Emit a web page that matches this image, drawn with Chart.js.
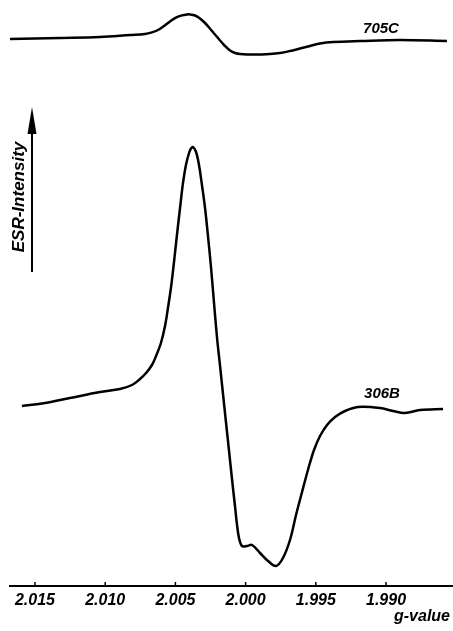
<!DOCTYPE html>
<html>
<head>
<meta charset="utf-8">
<script src="https://cdn.jsdelivr.net/npm/chart.js@4/dist/chart.umd.min.js"></script>
<style>
  html, body { margin: 0; padding: 0; background: #fff; }
  canvas { display: block; }
</style>
</head>
<body>
<canvas id="esr" width="453" height="631"></canvas>
<script>
// g-value ticks along the field axis
const gTicks = [2.015, 2.010, 2.005, 2.000, 1.995, 1.990];

// spectrum 705C (g-value, intensity a.u.)
const g705 = [2.01678, 2.01322, 2.01037, 2.00823, 2.00717, 2.00667, 2.00624, 2.00581, 2.00538,
  2.00496, 2.00453, 2.00417, 2.00396, 2.00360, 2.00325, 2.00289, 2.00254, 2.00218, 2.00182,
  2.00147, 2.00111, 2.00075, 2.00040, 1.99933, 1.99826, 1.99755, 1.99684, 1.99613, 1.99541,
  1.99470, 1.99377, 1.99185, 1.98900, 1.98566];
const int705 = [183.5, 184, 184.5, 185.5, 186, 186.8, 188, 190, 192.3,
  194.2, 195.3, 195.75, 195.8, 195.25, 193.75, 191.5, 188.75, 185.75, 182.75,
  180, 177.75, 176.5, 176, 175.75, 176, 176.5, 177.5, 178.75, 180,
  181.25, 182, 182.5, 183, 182.5];

// spectrum 306B
const g306 = [2.01593, 2.01429, 2.01251, 2.01037, 2.00895, 2.00809, 2.00752, 2.00709, 2.00667,
  2.00638, 2.00603, 2.00574, 2.00553, 2.00531, 2.00510, 2.00489, 2.00467, 2.00446, 2.00425,
  2.00403, 2.00389, 2.00375, 2.00353, 2.00332, 2.00311, 2.00289, 2.00268, 2.00246, 2.00225,
  2.00204, 2.00182, 2.00161, 2.00140, 2.00118, 2.00097, 2.00075, 2.00061, 2.00047, 2.00026,
  1.99990, 1.99954, 1.99897, 1.99840, 1.99783, 1.99734, 1.99684, 1.99641, 1.99598, 1.99556,
  1.99513, 1.99470, 1.99420, 1.99363, 1.99292, 1.99199, 1.99043, 1.98950, 1.98865, 1.98758,
  1.98594];
const int306 = [0, 1.5, 4, 7, 8.5, 10.5, 13.5, 16.5, 20.5,
  25, 31.5, 40, 49, 59.5, 72, 85.5, 99, 111.5, 120.5,
  126.5, 128.75, 129.5, 127, 120.5, 110.5, 99, 85, 69, 51.5,
  34.5, 20, 6, -8, -22.5, -36.5, -50.5, -59.5, -66, -70,
  -70, -69.5, -73.5, -77.5, -80, -76, -67, -54.5, -43, -32,
  -22, -15, -9.5, -5.5, -2.5, -0.5, -1, -2.5, -3.5, -2,
  -1.5];

const toPts = (xs, ys) => xs.map((x, i) => ({ x: x, y: ys[i] }));

// arrow, axis title, curve names and tiny tick marks
const extras = {
  id: "extras",
  afterDraw(chart) {
    const ctx = chart.ctx;
    const xs = chart.scales.x;
    const area = chart.chartArea;
    ctx.save();
    ctx.strokeStyle = "#000";
    ctx.fillStyle = "#000";

    // tick marks above the axis line
    ctx.lineWidth = 1.5;
    gTicks.forEach(g => {
      const px = xs.getPixelForValue(g);
      ctx.beginPath();
      ctx.moveTo(px, area.bottom);
      ctx.lineTo(px, area.bottom - 4);
      ctx.stroke();
    });

    // intensity arrow
    ctx.lineWidth = 2;
    ctx.beginPath();
    ctx.moveTo(32, 272);
    ctx.lineTo(32, 128);
    ctx.stroke();
    ctx.beginPath();
    ctx.moveTo(32, 107);
    ctx.lineTo(27.5, 134);
    ctx.lineTo(36.5, 134);
    ctx.closePath();
    ctx.fill();

    ctx.save();
    ctx.translate(19, 197);
    ctx.rotate(-Math.PI / 2);
    ctx.font = "italic bold 17px 'Liberation Sans', Arial, sans-serif";
    ctx.textAlign = "center";
    ctx.textBaseline = "middle";
    ctx.fillText("ESR-Intensity", 0, 0);
    ctx.restore();

    // spectrum names
    ctx.font = "italic bold 15px 'Liberation Sans', Arial, sans-serif";
    ctx.textAlign = "center";
    ctx.textBaseline = "middle";
    ctx.fillText("705C", 381, 29);
    ctx.fillText("306B", 382, 394);

    // axis name
    ctx.font = "italic bold 16px 'Liberation Sans', Arial, sans-serif";
    ctx.textAlign = "left";
    ctx.fillText("g-value", 394, 617);
    ctx.restore();
  }
};

new Chart(document.getElementById("esr"), {
  type: "line",
  data: {
    datasets: [
      { label: "705C", data: toPts(g705, int705) },
      { label: "306B", data: toPts(g306, int306) }
    ]
  },
  options: {
    responsive: false,
    animation: false,
    devicePixelRatio: 1,
    layout: { padding: { left: 10, right: 0, top: 0, bottom: 0 } },
    elements: {
      line: { borderColor: "#000", borderWidth: 2.5, tension: 0.35, fill: false },
      point: { radius: 0 }
    },
    plugins: { legend: { display: false }, tooltip: { enabled: false } },
    scales: {
      x: {
        type: "linear",
        reverse: true,
        min: 1.98523,
        max: 2.01678,
        afterBuildTicks: s => { s.ticks = gTicks.map(v => ({ value: v })); },
        afterFit: s => { s.height = 45; },
        grid: { display: false, drawTicks: false },
        border: { display: true, color: "#000", width: 2 },
        ticks: {
          color: "#000",
          font: { family: "'Liberation Sans', Arial, sans-serif", size: 16, style: "italic", weight: "bold" },
          padding: 5,
          maxRotation: 0,
          autoSkip: false,
          callback: v => v.toFixed(3)
        }
      },
      y: { display: false, min: -90, max: 203 }
    }
  },
  plugins: [extras]
});
</script>
</body>
</html>
